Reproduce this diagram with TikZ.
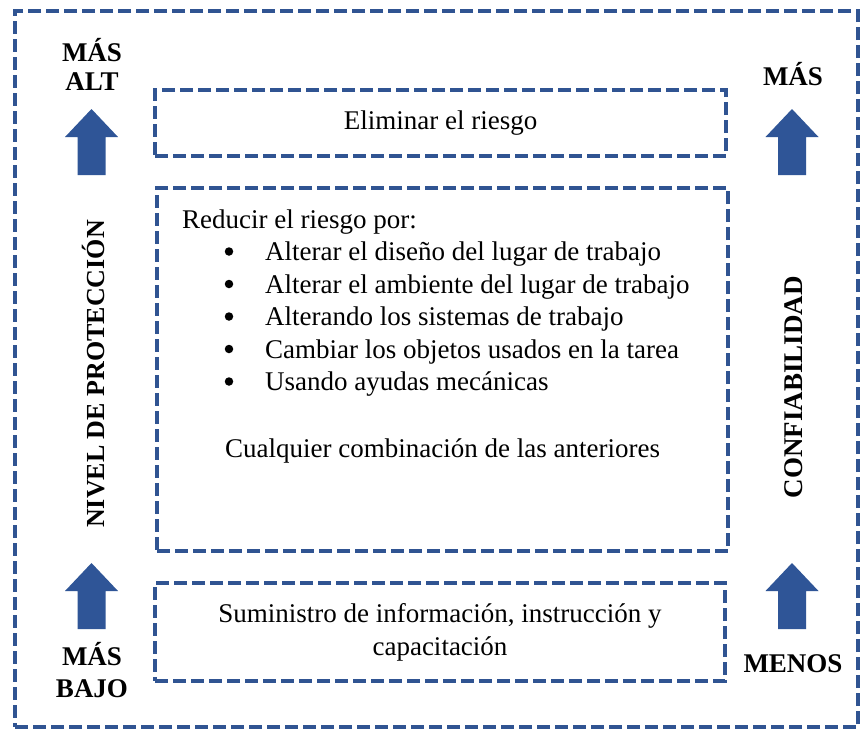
\documentclass[tikz,border=0pt]{standalone}
\usepackage{fontspec}
\setmainfont{Liberation Serif}
\usetikzlibrary{positioning}

\definecolor{frameblue}{RGB}{48,84,146}
\definecolor{arrowblue}{RGB}{47,85,151}

\tikzset{
  dashbox/.style={draw=frameblue, line width=3.6pt, dash pattern=on 13pt off 5pt, fill=white, inner sep=0pt},
  bodytext/.style={inner sep=0pt, font=\fontsize{27}{33}\selectfont},
  sidelabel/.style={inner sep=0pt, font=\fontsize{27}{29}\selectfont\bfseries},
  dot/.style={circle, fill=black, inner sep=0pt, minimum size=8.5pt},
  uparrow/.pic={\fill[arrowblue] (-14,0) -- (-14,-38) -- (-26.5,-38) -- (0,-66) -- (26.5,-38) -- (14,-38) -- (14,0) -- cycle;}
}

\begin{document}
\begin{tikzpicture}[x=1pt, y=-1pt]
        \useasboundingbox (0,0) rectangle (863,729);
        \node[dashbox, minimum width=843pt, minimum height=716pt] (frame) at (436.5,369) {};
        % the three measures
        \node[dashbox, bodytext, minimum width=571pt, minimum height=66pt] (eliminate) at (440.5,123) {Eliminar el riesgo};
        \node[dashbox, minimum width=571pt, minimum height=363pt] (reduce) at (442.5,369.5) {};
        \node[dashbox, bodytext, align=center, minimum width=570pt, minimum height=98pt] (inform) at (440,632) {Suministro de información, instrucción y\\capacitación};
        \node[bodytext, anchor=base west] (reduceby) at (182,228) {Reducir el riesgo por:};
        \foreach \txt [count=\i] in {Alterar el diseño del lugar de trabajo, Alterar el ambiente del lugar de trabajo, Alterando los sistemas de trabajo, Cambiar los objetos usados en la tarea, Usando ayudas mecánicas}{
            \node[dot] (bullet\i) at (229,{219+32.5*\i}) {};
            \node[bodytext, anchor=base west] (item\i) at (265,{228+32.5*\i}) {\txt};
        }
        \node[bodytext, anchor=base west] (combo) at (225,457) {Cualquier combinación de las anteriores};
        % left scale
        \node[sidelabel, anchor=base] (highmore) at (92,61) {MÁS};
        \node[sidelabel, anchor=base] (highalt) at (92,90) {ALT};
        \pic (leftup) at (91.5,175) {uparrow};
        \node[sidelabel, font=\fontsize{26}{29}\selectfont\bfseries, rotate=90] (level) at (94,374) {NIVEL DE PROTECCIÓN};
        \pic (leftlow) at (91.5,629) {uparrow};
        \node[sidelabel, anchor=base] (lowmore) at (92,665) {MÁS};
        \node[sidelabel, anchor=base] (lowbajo) at (92,697) {BAJO};
        % right scale
        \node[sidelabel, anchor=base] (mostsure) at (793,85) {MÁS};
        \pic (rightup) at (792,175) {uparrow};
        \node[sidelabel, rotate=90] (trust) at (794,387) {CONFIABILIDAD};
        \pic (rightlow) at (792,629) {uparrow};
        \node[sidelabel, anchor=base] (leastsure) at (793,672) {MENOS};
\end{tikzpicture}
\end{document}
